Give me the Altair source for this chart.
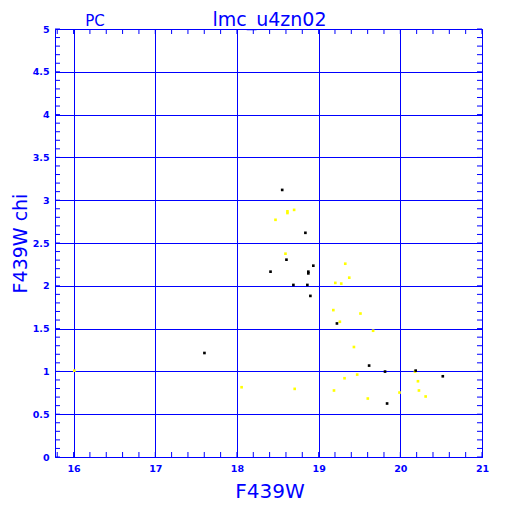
import altair as alt
import pandas as pd

# ---- data ----
black_x = [18.554, 18.838, 18.606, 18.411, 18.935, 18.874, 18.874, 18.691, 18.862,
           18.899, 19.224, 19.618, 19.813, 20.188, 20.520, 19.838, 17.602]
black_y = [3.120, 2.619, 2.305, 2.165, 2.235, 2.165, 2.145, 2.010, 2.010,
           1.882, 1.560, 1.068, 0.998, 1.009, 0.943, 0.625, 1.215]

yellow_x = [18.618, 18.618, 18.700, 18.472, 18.594, 19.326, 19.375, 19.204, 19.277,
            19.180, 19.512, 19.260, 19.667, 19.432, 20.180, 19.317, 19.472,
            20.216, 19.188, 19.602, 19.990, 20.228, 20.310, 16.009, 18.057, 18.707]
yellow_y = [2.870, 2.850, 2.887, 2.771, 2.375, 2.258, 2.095, 2.034, 2.026,
            1.716, 1.676, 1.580, 1.475, 1.285, 0.998, 0.920, 0.963,
            0.885, 0.777, 0.683, 0.753, 0.777, 0.707, 1.009, 0.815, 0.796]

x_major = [16, 17, 18, 19, 20, 21]
y_major = [0, 0.5, 1, 1.5, 2, 2.5, 3, 3.5, 4, 4.5, 5]
x_minor = [round(15.8 + 0.2 * i, 1) for i in range(27)]
y_minor = [round(0.1 * i, 1) for i in range(51)]

title_text = "lmc_u4zn02"
corner_text = "PC"

BLUE = "#0000ff"
W, H = 427, 428
XDOM = [15.7725, 21.0]
YDOM = [0, 5]

xs = alt.Scale(domain=XDOM, nice=False, zero=False)
ys = alt.Scale(domain=YDOM, nice=False, zero=False)

xaxis = alt.Axis(values=x_major, format="d", grid=True, gridColor=BLUE, gridWidth=1,
                 gridOpacity=1, ticks=False, domain=False, labelColor=BLUE,
                 labelFont="DejaVu Sans", labelFontWeight="bold", labelFontSize=9.5,
                 labelPadding=6, labelFlush=False,
                 title="F439W", titleColor=BLUE, titleFont="DejaVu Sans",
                 titleFontWeight="normal", titleFontSize=20, titleBaseline="alphabetic",
                 titleY=40, titleX=W / 2 + 1, titleAlign="center")
yaxis = alt.Axis(values=y_major, format="~g", grid=True, gridColor=BLUE, gridWidth=1,
                 gridOpacity=1, ticks=False, domain=False, labelColor=BLUE,
                 labelFont="DejaVu Sans", labelFontWeight="bold", labelFontSize=9.5,
                 labelPadding=6, labelFlush=False,
                 title="F439W chi", titleColor=BLUE, titleFont="DejaVu Sans",
                 titleFontWeight="normal", titleFontSize=19, titleBaseline="alphabetic",
                 titleX=-29, titleY=H / 2, titleAlign="center", titleAngle=270)

yellow_df = pd.DataFrame({"x": yellow_x, "y": yellow_y})
black_df = pd.DataFrame({"x": black_x, "y": black_y})
xmin_df = pd.DataFrame({"x": x_minor})
ymin_df = pd.DataFrame({"y": y_minor})

base_pts = alt.Chart(yellow_df).mark_square(size=7, color="#ffff00", opacity=1).encode(
    x=alt.X("x:Q", scale=xs, axis=xaxis),
    y=alt.Y("y:Q", scale=ys, axis=yaxis),
)
black_pts = alt.Chart(black_df).mark_square(size=7, color="#000000", opacity=1).encode(
    x=alt.X("x:Q", scale=xs), y=alt.Y("y:Q", scale=ys)
)

tick_len = 5
xt_bottom = alt.Chart(xmin_df).mark_rule(color=BLUE, strokeWidth=1).encode(
    x=alt.X("x:Q", scale=xs), y=alt.value(H), y2=alt.value(H - tick_len))
xt_top = alt.Chart(xmin_df).mark_rule(color=BLUE, strokeWidth=1).encode(
    x=alt.X("x:Q", scale=xs), y=alt.value(0), y2=alt.value(tick_len))
yt_left = alt.Chart(ymin_df).mark_rule(color=BLUE, strokeWidth=1).encode(
    y=alt.Y("y:Q", scale=ys), x=alt.value(0), x2=alt.value(tick_len))
yt_right = alt.Chart(ymin_df).mark_rule(color=BLUE, strokeWidth=1).encode(
    y=alt.Y("y:Q", scale=ys), x=alt.value(W - tick_len), x2=alt.value(W))

title_mark = alt.Chart(pd.DataFrame({"t": [title_text]})).mark_text(
    font="DejaVu Sans", fontSize=19, color=BLUE, align="center", baseline="alphabetic"
).encode(text="t:N", x=alt.value(W / 2 + 1), y=alt.value(-3))
pc_mark = alt.Chart(pd.DataFrame({"t": [corner_text]})).mark_text(
    font="DejaVu Sans", fontSize=15, color=BLUE, align="center", baseline="alphabetic"
).encode(text="t:N", x=alt.value(40), y=alt.value(-3))

chart = alt.layer(
    base_pts, black_pts, xt_bottom, xt_top, yt_left, yt_right, title_mark, pc_mark
).properties(
    width=W, height=H,
    autosize=alt.AutoSizeParams(type="none"),
    padding={"left": 47, "top": 21, "right": 22, "bottom": 50},
    background="white",
).configure_view(stroke=BLUE, strokeWidth=1)

chart.save("out.html", embed_options={"renderer": "svg", "actions": False})
